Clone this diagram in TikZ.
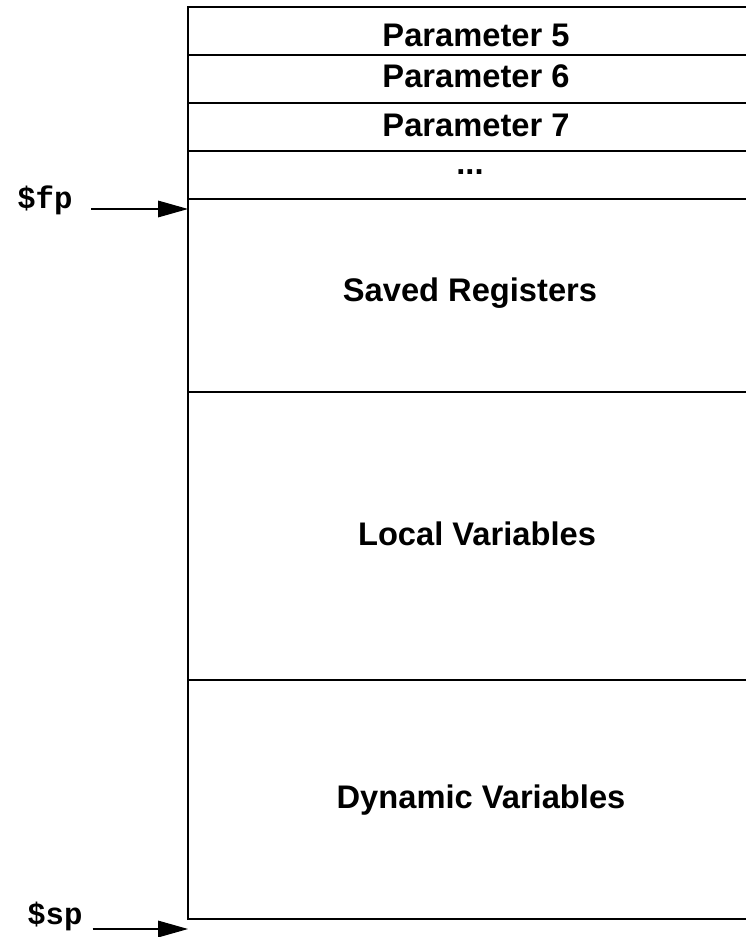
\documentclass[tikz,border=0pt]{standalone}
\usepackage{fontspec}
\setmainfont{Liberation Sans}
\setmonofont{Liberation Mono}
\usetikzlibrary{arrows.meta}
\tikzset{
	cell/.style={font=\fontsize{24.5}{28}\selectfont\bfseries, anchor=base, inner sep=0pt},
	reg/.style={font=\fontsize{23}{27}\selectfont\ttfamily\bfseries, anchor=base west, inner sep=0pt},
	ptr/.style={-{Triangle[length=22.5pt,width=12.5pt]}, line width=0.8pt},
	rule/.style={line width=0.9pt},
}

\begin{document}
\begin{tikzpicture}[x=0.75pt,y=-0.75pt]
	\useasboundingbox (0,0) rectangle (746,937);

	\draw[rule] (745.5,7) -- (188,7) -- (188,919) -- (745.5,919);
	\foreach \y in {55,103,151,199,392,680}
		\draw[rule] (188,\y) -- (745.5,\y);

	\node[cell] (par5) at (476,47) {Parameter 5};
	\node[cell] (par6) at (476,88) {Parameter 6};
	\node[cell] (par7) at (476,137) {Parameter 7};
	\node[cell] (more) at (470,175) {...};
	\node[cell] (saved) at (470,302) {Saved Registers};
	\node[cell] (local) at (477,545) {Local Variables};
	\node[cell] (dynamic) at (481,808) {Dynamic Variables};

	\node[reg] (fp) at (17,209) {\$fp};
	\node[reg] (sp) at (27,924) {\$sp};
	\coordinate (fptip) at (188,209);
	\coordinate (sptip) at (188,929);
	\draw[ptr] ([xshift=14pt]fp.base east) -- (fptip);
	\draw[ptr] ([xshift=7.5pt,yshift=-3.75pt]sp.base east) -- (sptip);
\end{tikzpicture}
\end{document}
